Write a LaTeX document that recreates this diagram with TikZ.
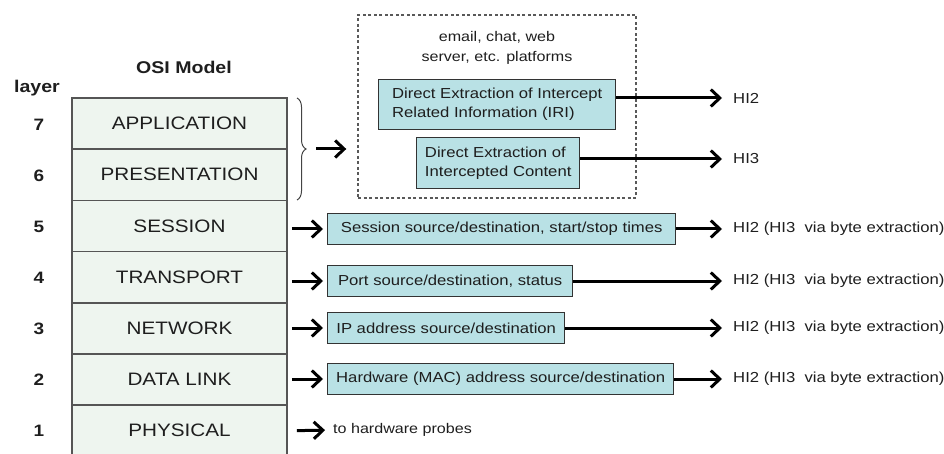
\documentclass[tikz,border=0pt]{standalone}
\usepackage{fontspec}
\setmainfont{Liberation Sans}[FakeStretch=1.15]
\usetikzlibrary{arrows.meta,decorations.pathreplacing}

\definecolor{layerfill}{HTML}{EEF5EF}
\definecolor{infofill}{HTML}{B9E1E5}
\definecolor{edgegray}{HTML}{555555}
\definecolor{inkdark}{HTML}{1E1E1E}

\begin{document}
\begin{tikzpicture}[x=1pt,y=-1pt,
  layerbox/.style={draw=edgegray, line width=1.6pt, fill=layerfill,
    minimum width=215pt, minimum height=51.2pt, inner sep=0pt,
    text=inkdark, font=\fontsize{18}{21}\selectfont},
  infobox/.style={draw=black!80, line width=1.4pt, fill=infofill,
    minimum height=31pt, inner sep=0pt, anchor=west, text=inkdark,
    font=\fontsize{14.5}{17}\selectfont},
  numlabel/.style={text=inkdark, font=\bfseries\fontsize{16.5}{19}\selectfont},
  outlabel/.style={anchor=west, inner xsep=11pt, inner ysep=0pt, text=inkdark,
    font=\fontsize{14.5}{17}\selectfont},
  feed/.style={line width=3pt, -{Straight Barb[length=9pt,width=17pt]}},
]
\useasboundingbox (0,0) rectangle (944,454);

% headings
\node[text=inkdark, font=\bfseries\fontsize{17}{20}\selectfont] (title) at (184,67) {OSI Model};
\node[numlabel, font=\bfseries\fontsize{17}{20}\selectfont] (layerhead) at (37,88) {layer};

% the seven layers
\node[layerbox] (l7) at (179.5,123.6) {APPLICATION};
\node[layerbox] (l6) at (179.5,174.8) {PRESENTATION};
\node[layerbox] (l5) at (179.5,226.0) {SESSION};
\node[layerbox] (l4) at (179.5,277.2) {TRANSPORT};
\node[layerbox] (l3) at (179.5,328.4) {NETWORK};
\node[layerbox] (l2) at (179.5,379.6) {DATA LINK};
\node[layerbox] (l1) at (179.5,430.8) {PHYSICAL};

% layer numbers
\node[numlabel] (n7) at (39,125) {7};
\node[numlabel] (n6) at (39,176) {6};
\node[numlabel] (n5) at (39,227) {5};
\node[numlabel] (n4) at (39,278) {4};
\node[numlabel] (n3) at (39,329) {3};
\node[numlabel] (n2) at (39,380) {2};
\node[numlabel] (n1) at (39,431) {1};

% application / presentation platforms
\node[draw=black!65, line width=1.4pt, dash pattern=on 3pt off 2.5pt,
  minimum width=278pt, minimum height=183pt, inner sep=0pt] (platform) at (497,106.5) {};
\node[text=inkdark, align=center, font=\fontsize{14}{20}\selectfont] (platformtext) at (497,48)
  {email, chat, web\\server, etc. platforms};
\node[infobox, anchor=north west, minimum width=237pt, minimum height=50pt, align=left,
  font=\fontsize{14.5}{19}\selectfont] (iri) at (378,79)
  {Direct Extraction of Intercept\\Related Information (IRI)};
\node[infobox, anchor=north west, minimum width=163pt, minimum height=51pt, align=left,
  font=\fontsize{14.5}{19}\selectfont] (content) at (416,137)
  {Direct Extraction of\\Intercepted Content};

\draw[edgegray!80!black, line width=1pt, decorate, decoration={brace, amplitude=9pt}]
  (297,98) -- (297,200);
\coordinate (bracetip) at (316,149);
\draw[feed] (bracetip) -- ([xshift=-11pt]platform.west |- bracetip);

\node[outlabel] (hiiri) at (722,98) {HI2};
\node[outlabel] (hicontent) at (722,159) {HI3};
\draw[feed] (iri.east |- hiiri.west) -- (hiiri.west);
\draw[feed] (content.east |- hicontent.west) -- (hicontent.west);

% per-layer extraction
\node[infobox, minimum width=348pt] (s5) at (327,229) {Session source/destination, start/stop times};
\node[infobox, minimum width=245pt] (s4) at (327,281) {Port source/destination, status};
\node[infobox, minimum width=237pt] (s3) at (327,328) {IP address source/destination};
\node[infobox, minimum width=346pt] (s2) at (327,379) {Hardware (MAC) address source/destination};

\node[outlabel] (h5) at (722,229) {HI2 (HI3\ \ via byte extraction)};
\node[outlabel] (h4) at (722,281) {HI2 (HI3\ \ via byte extraction)};
\node[outlabel] (h3) at (722,328) {HI2 (HI3\ \ via byte extraction)};
\node[outlabel] (h2) at (722,379) {HI2 (HI3\ \ via byte extraction)};

\foreach \s/\l/\h in {s5/l5/h5, s4/l4/h4, s3/l3/h3, s2/l2/h2} {
  \draw[feed, shorten <=4pt, shorten >=4pt] (\l.east |- \s.west) -- (\s.west);
  \draw[feed] (\s.east) -- (\h.west);
}

\node[anchor=west, inner sep=0pt, text=inkdark, font=\fontsize{14}{17}\selectfont] (probe) at (333,430)
  {to hardware probes};
\draw[feed, shorten <=9pt, shorten >=8pt] (l1.east) -- (probe.west);
\end{tikzpicture}
\end{document}
